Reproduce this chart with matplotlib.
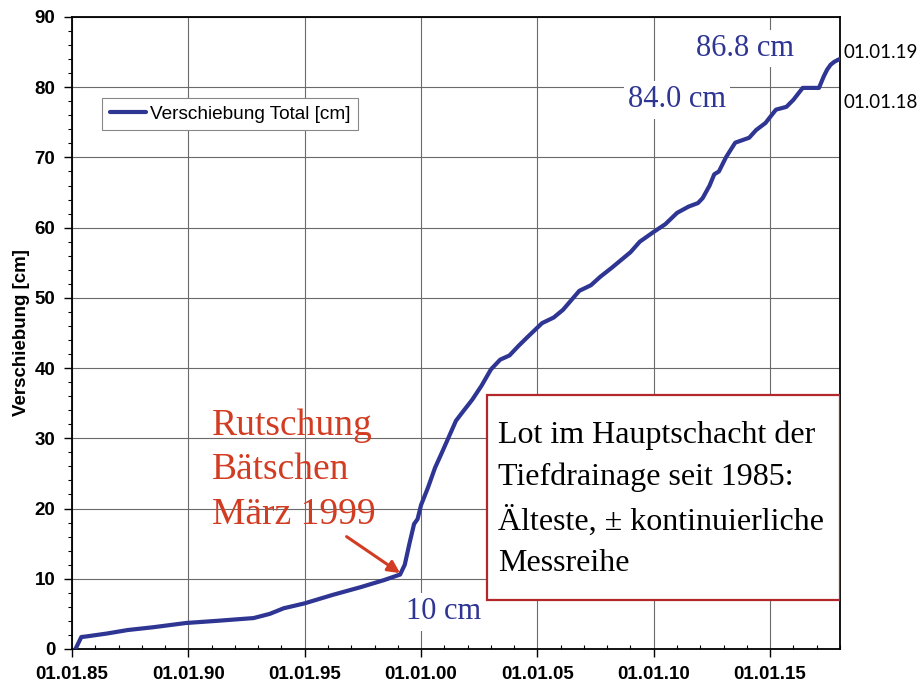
import matplotlib.pyplot as plt
from matplotlib.patches import Rectangle
from matplotlib.ticker import MultipleLocator

# displacement of the plumb line (Lot) since 1985
years = [1985.15, 1985.4, 1985.65, 1986.5, 1987.4, 1988.5, 1989.9, 1991.2, 1992.8,
         1993.5, 1994.1, 1995.0, 1996.2, 1997.4, 1998.4, 1999.1, 1999.3, 1999.5,
         1999.7, 1999.85, 2000.0, 2000.3, 2000.6, 2000.9, 2001.1, 2001.5, 2001.8,
         2002.2, 2002.6, 2003.0, 2003.4, 2003.8, 2004.2, 2004.6, 2005.2, 2005.7,
         2006.1, 2006.8, 2007.3, 2007.7, 2008.2, 2008.6, 2009.0, 2009.4, 2010.0,
         2010.5, 2011.0, 2011.5, 2011.9, 2012.1, 2012.4, 2012.6, 2012.8, 2013.1,
         2013.5, 2014.1, 2014.4, 2014.8, 2015.25, 2015.7, 2016.0, 2016.4, 2017.1,
         2017.3, 2017.45, 2017.6, 2017.75, 2017.98]
shift_cm = [0, 1.7, 1.8, 2.2, 2.7, 3.1, 3.7, 4.0, 4.4,
            5.0, 5.8, 6.5, 7.7, 8.8, 9.8, 10.6, 12.0, 15.0,
            17.8, 18.5, 20.5, 23.0, 25.8, 28.0, 29.5, 32.5, 33.8,
            35.5, 37.5, 39.8, 41.2, 41.8, 43.2, 44.5, 46.4, 47.2,
            48.3, 51.0, 51.8, 53.0, 54.3, 55.4, 56.5, 58.0, 59.4,
            60.5, 62.1, 63.0, 63.5, 64.2, 66.0, 67.6, 68.0, 70.0,
            72.1, 72.8, 73.9, 74.9, 76.8, 77.2, 78.2, 79.9, 79.9,
            81.5, 82.5, 83.2, 83.6, 84.0]

xtick_years = [1985, 1990, 1995, 2000, 2005, 2010, 2015]
xtick_labels = ["01.01.85", "01.01.90", "01.01.95", "01.01.00",
                "01.01.05", "01.01.10", "01.01.15"]

blue = "#2e3592"
red = "#d23c22"
serif = "Liberation Serif"
sans = "Liberation Sans"

fig = plt.figure(figsize=(9.23, 6.84), dpi=100)
ax = fig.add_axes([0.078, 0.0512, 0.832, 0.924])

ax.plot(years, shift_cm, color=blue, lw=3, label="Verschiebung Total [cm]",
        solid_capstyle="round", zorder=3)

ax.set_xlim(1985, 2018)
ax.set_ylim(0, 90)
ax.set_xticks(xtick_years)
ax.set_xticklabels(xtick_labels)
ax.xaxis.set_minor_locator(MultipleLocator(1))
ax.yaxis.set_major_locator(MultipleLocator(10))
ax.yaxis.set_minor_locator(MultipleLocator(2))
ax.grid(True, which="major", color="#6a6a6a", lw=0.8)
ax.set_axisbelow(True)

ax.tick_params(which="major", length=6, width=1, pad=6, labelsize=13.5)
ax.tick_params(which="minor", length=3, width=0.8)
ax.tick_params(axis="x", which="minor", direction="in")
for lab in ax.get_xticklabels() + ax.get_yticklabels():
    lab.set_family(sans)
    lab.set_fontweight("bold")
for sp in ax.spines.values():
    sp.set_linewidth(1.3)

ax.set_ylabel("Verschiebung [cm]", fontsize=13.5, fontweight="bold",
              family=sans, labelpad=3)

leg = ax.legend(loc="upper left", bbox_to_anchor=(0.039, 0.872),
                prop={"family": sans, "size": 13.7}, frameon=True, fancybox=False,
                edgecolor="#888888", framealpha=1, handlelength=1.9,
                handletextpad=0.2, borderpad=0.4, borderaxespad=0)
leg.get_frame().set_linewidth(0.8)

# value labels
box = dict(facecolor="white", edgecolor="none", pad=3)
ax.text(2013.9, 85.5, "86.8 cm", color=blue, fontsize=22, family=serif,
        ha="center", va="center", bbox=box, zorder=2)
ax.text(2011.0, 78.2, "84.0 cm", color=blue, fontsize=22, family=serif,
        ha="center", va="center", bbox=box, zorder=2)
ax.text(2000.95, 5.3, "10 cm", color=blue, fontsize=22, family=serif,
        ha="center", va="center", bbox=box, zorder=2)

# dates at the right edge
ytr = ax.get_yaxis_transform()
ax.text(1.004, 85.0, "01.01.19", transform=ytr, fontsize=13.5, family="Lato",
        ha="left", va="center", clip_on=False)
ax.text(1.004, 77.8, "01.01.18", transform=ytr, fontsize=13.5, family="Lato",
        ha="left", va="center", clip_on=False)

# landslide note with arrow
ax.text(1991.0, 34.3, "Rutschung\nBätschen\nMärz 1999", color=red, fontsize=27,
        family=serif, ha="left", va="top", linespacing=1.38, zorder=4)
ax.annotate("", xy=(1999.1, 10.8), xytext=(1996.8, 16.0),
            arrowprops=dict(arrowstyle="-|>", color=red, lw=2.2,
                            mutation_scale=18, shrinkA=0, shrinkB=0), zorder=5)

# info box
ax.add_patch(Rectangle((0.540, 0.0775), 0.46, 0.3245, transform=ax.transAxes,
                       facecolor="white", edgecolor="#b3262c", lw=1.6, zorder=4))
ax.text(0.555, 0.362, "Lot im Hauptschacht der\nTiefdrainage seit 1985:\n"
        "Älteste, ± kontinuierliche\nMessreihe", transform=ax.transAxes,
        fontsize=23, family=serif, ha="left", va="top", linespacing=1.56,
        zorder=5)

fig.savefig("out.png", dpi=100)
